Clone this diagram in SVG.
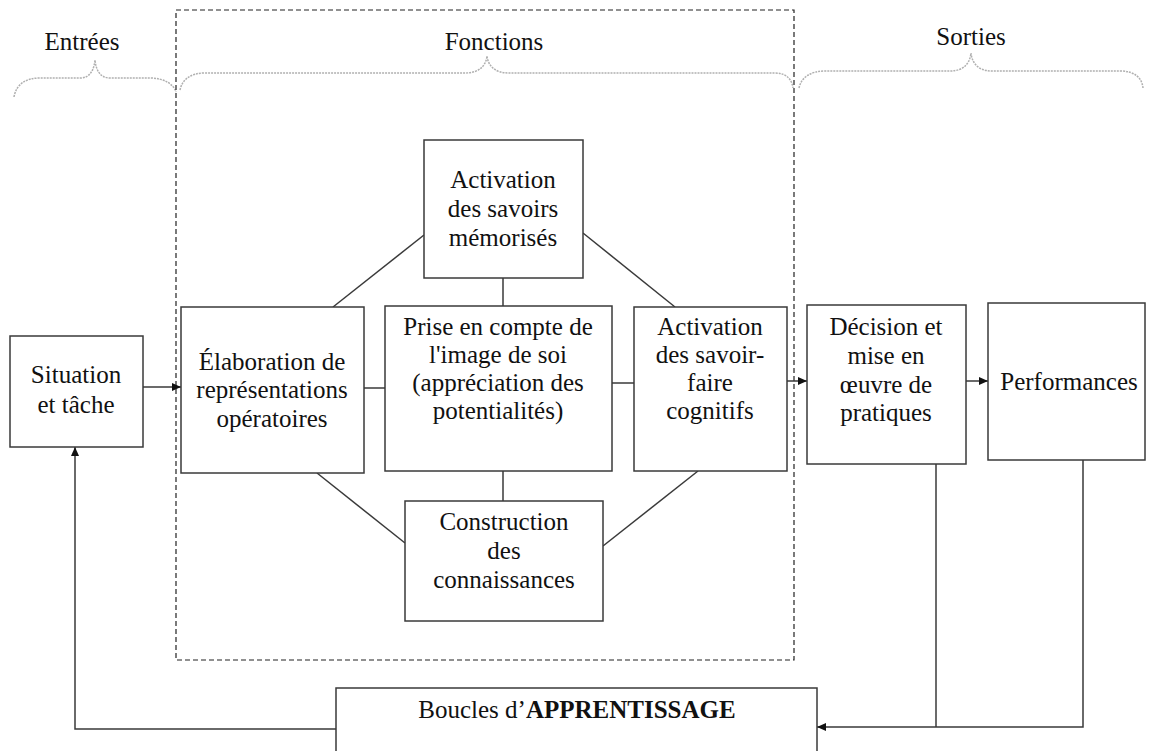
<svg xmlns="http://www.w3.org/2000/svg" width="1153" height="751" viewBox="0 0 1153 751">
<defs>
<marker id="arr" markerWidth="10" markerHeight="10" refX="9" refY="5" orient="auto" markerUnits="userSpaceOnUse">
<path d="M0,1 L9,5 L0,9 Z" fill="#111"/>
</marker>
</defs>
<rect width="1153" height="751" fill="#fff"/>

<g id="headers">
<text x="82" y="50" font-family="Liberation Serif" font-size="25" fill="#111" text-anchor="middle">Entrées</text>
<text x="494" y="50" font-family="Liberation Serif" font-size="25" fill="#111" text-anchor="middle">Fonctions</text>
<text x="971" y="45" font-family="Liberation Serif" font-size="25" fill="#111" text-anchor="middle">Sorties</text>
<g fill="none" stroke="#b0b0b0" stroke-width="1.5" stroke-dasharray="2 1">
<path d="M14,97 C16,85 25,78 40,78 L80,78 C90,78 94,70 95,60 C96,70 100,78 110,78 L150,78 C165,78 174,85 176,92"/>
<path d="M180,90 C182,80 190,73 205,73 L465,73 C480,73 486,65 487,56 C488,65 494,73 509,73 L775,73 C787,73 792,80 793,88"/>
<path d="M799,88 C801,78 810,71 825,71 L950,71 C965,71 970,62 971,53 C972,62 977,71 992,71 L1120,71 C1135,71 1142,78 1143,88"/>
</g>
</g>

<rect id="fonctions-frame" x="176" y="10" width="618" height="650" fill="none" stroke="#222" stroke-width="1.2" stroke-dasharray="5 3"/>

<g id="connectors" fill="none" stroke="#3a3a3a" stroke-width="1.5">
<line x1="143" y1="387" x2="181" y2="387" marker-end="url(#arr)"/>
<line x1="364" y1="388" x2="385" y2="388"/>
<line x1="612" y1="383" x2="634" y2="383"/>
<line x1="503" y1="278" x2="503" y2="306"/>
<line x1="503" y1="471" x2="503" y2="501"/>
<line x1="424" y1="235" x2="333" y2="307"/>
<line x1="583" y1="233" x2="675" y2="307"/>
<line x1="317" y1="473" x2="405" y2="543"/>
<line x1="698" y1="471" x2="603" y2="546"/>
<line x1="787" y1="381" x2="807" y2="381" marker-end="url(#arr)"/>
<line x1="966" y1="381" x2="988" y2="381" marker-end="url(#arr)"/>
<polyline points="336,729 75,729 75,447" marker-end="url(#arr)"/>
<polyline points="1083,460 1083,727 817,727" marker-end="url(#arr)"/>
<line x1="936" y1="464" x2="936" y2="727"/>
</g>

<g id="situation">
<rect x="10" y="336" width="133" height="111" fill="#fff" stroke="#3a3a3a" stroke-width="1.5"/>
<text x="76" y="383" font-family="Liberation Serif" font-size="25" fill="#111" text-anchor="middle">Situation</text>
<text x="76" y="413" font-family="Liberation Serif" font-size="25" fill="#111" text-anchor="middle">et tâche</text>
</g>

<g id="elaboration">
<rect x="181" y="307" width="183" height="166" fill="#fff" stroke="#3a3a3a" stroke-width="1.5"/>
<text x="272" y="370" font-family="Liberation Serif" font-size="25" fill="#111" text-anchor="middle">Élaboration de</text>
<text x="272" y="398" font-family="Liberation Serif" font-size="25" fill="#111" text-anchor="middle">représentations</text>
<text x="272" y="427" font-family="Liberation Serif" font-size="25" fill="#111" text-anchor="middle">opératoires</text>
</g>

<g id="activation-savoirs">
<rect x="424" y="140" width="159" height="138" fill="#fff" stroke="#3a3a3a" stroke-width="1.5"/>
<text x="503" y="188" font-family="Liberation Serif" font-size="25" fill="#111" text-anchor="middle">Activation</text>
<text x="503" y="217" font-family="Liberation Serif" font-size="25" fill="#111" text-anchor="middle">des savoirs</text>
<text x="503" y="246" font-family="Liberation Serif" font-size="25" fill="#111" text-anchor="middle">mémorisés</text>
</g>

<g id="prise-en-compte">
<rect x="385" y="306" width="227" height="165" fill="#fff" stroke="#3a3a3a" stroke-width="1.5"/>
<text x="498" y="335" font-family="Liberation Serif" font-size="25" fill="#111" text-anchor="middle">Prise en compte de</text>
<text x="498" y="363" font-family="Liberation Serif" font-size="25" fill="#111" text-anchor="middle">l'image de soi</text>
<text x="498" y="391" font-family="Liberation Serif" font-size="25" fill="#111" text-anchor="middle">(appréciation des</text>
<text x="498" y="419" font-family="Liberation Serif" font-size="25" fill="#111" text-anchor="middle">potentialités)</text>
</g>

<g id="activation-savoir-faire">
<rect x="634" y="307" width="153" height="164" fill="#fff" stroke="#3a3a3a" stroke-width="1.5"/>
<text x="710" y="335" font-family="Liberation Serif" font-size="25" fill="#111" text-anchor="middle">Activation</text>
<text x="710" y="363" font-family="Liberation Serif" font-size="25" fill="#111" text-anchor="middle">des savoir-</text>
<text x="710" y="391" font-family="Liberation Serif" font-size="25" fill="#111" text-anchor="middle">faire</text>
<text x="710" y="419" font-family="Liberation Serif" font-size="25" fill="#111" text-anchor="middle">cognitifs</text>
</g>

<g id="construction">
<rect x="405" y="501" width="198" height="120" fill="#fff" stroke="#3a3a3a" stroke-width="1.5"/>
<text x="504" y="530" font-family="Liberation Serif" font-size="25" fill="#111" text-anchor="middle">Construction</text>
<text x="504" y="559" font-family="Liberation Serif" font-size="25" fill="#111" text-anchor="middle">des</text>
<text x="504" y="588" font-family="Liberation Serif" font-size="25" fill="#111" text-anchor="middle">connaissances</text>
</g>

<g id="decision">
<rect x="807" y="305" width="159" height="159" fill="#fff" stroke="#3a3a3a" stroke-width="1.5"/>
<text x="886" y="335" font-family="Liberation Serif" font-size="25" fill="#111" text-anchor="middle">Décision et</text>
<text x="886" y="364" font-family="Liberation Serif" font-size="25" fill="#111" text-anchor="middle">mise en</text>
<text x="886" y="393" font-family="Liberation Serif" font-size="25" fill="#111" text-anchor="middle">œuvre de</text>
<text x="886" y="421" font-family="Liberation Serif" font-size="25" fill="#111" text-anchor="middle">pratiques</text>
</g>

<g id="performances">
<rect x="988" y="303" width="157" height="157" fill="#fff" stroke="#3a3a3a" stroke-width="1.5"/>
<text x="1069" y="390" font-family="Liberation Serif" font-size="25" fill="#111" text-anchor="middle">Performances</text>
</g>

<g id="boucles">
<rect x="336" y="688" width="481" height="80" fill="#fff" stroke="#3a3a3a" stroke-width="1.5"/>
<text x="577" y="718" font-family="Liberation Serif" font-size="25" fill="#111" text-anchor="middle">Boucles d’<tspan font-weight="bold">APPRENTISSAGE</tspan></text>
</g>
</svg>
